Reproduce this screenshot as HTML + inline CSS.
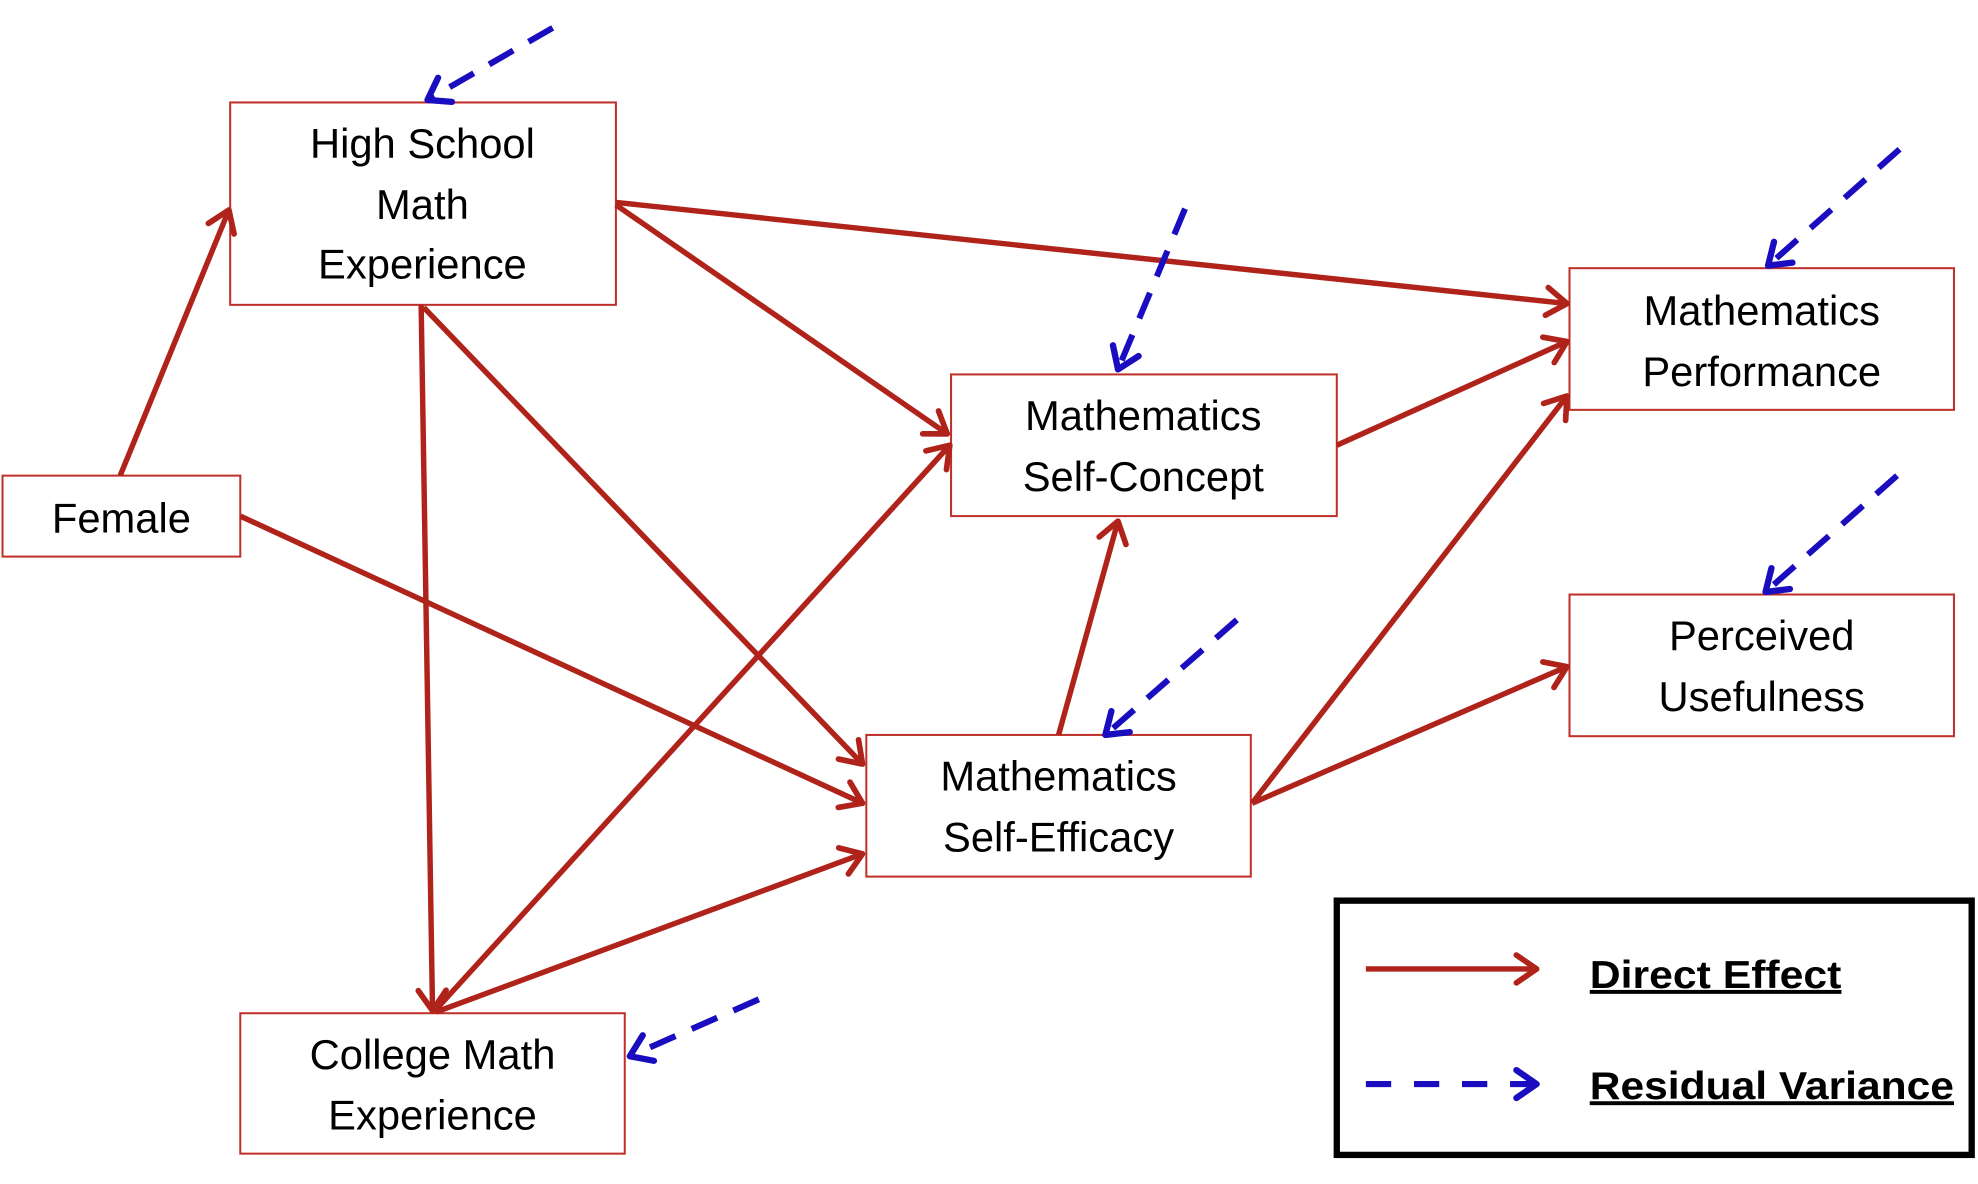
<!DOCTYPE html>
<html><head><meta charset="utf-8"><style>
html,body{margin:0;padding:0;background:#fff;}
svg{display:block;}
text{font-family:"Liberation Sans",sans-serif;fill:#000;}
</style></head><body>
<svg width="1978" height="1184" viewBox="0 0 1564 936" preserveAspectRatio="none" xmlns="http://www.w3.org/2000/svg">
<defs>
<marker id="r" markerUnits="userSpaceOnUse" markerWidth="40" markerHeight="40" refX="20" refY="20" orient="auto" viewBox="0 0 40 40" overflow="visible">
<polyline points="4,9 20,20 4,31" fill="none" stroke="#b0231a" stroke-width="4.5" stroke-linecap="round" stroke-linejoin="round"/>
</marker>
<marker id="b" markerUnits="userSpaceOnUse" markerWidth="40" markerHeight="40" refX="20" refY="20" orient="auto" viewBox="0 0 40 40" overflow="visible">
<polyline points="4,9 20,20 4,31" fill="none" stroke="#1a0dc0" stroke-width="5" stroke-linecap="round" stroke-linejoin="round"/>
</marker>
</defs>
<g fill="#fff" stroke="#c0302a" stroke-width="1.6">
<rect x="182" y="81" width="305" height="160"/>
<rect x="2" y="376" width="188" height="64"/>
<rect x="752" y="296" width="305" height="112"/>
<rect x="1241" y="212" width="304" height="112"/>
<rect x="1241" y="470" width="304" height="112"/>
<rect x="685" y="581" width="304" height="112"/>
<rect x="190" y="801" width="304" height="111"/>
</g>
<g stroke="#b0231a" stroke-width="4.3" fill="none" marker-end="url(#r)">
<line x1="95" y1="376" x2="181" y2="166"/>
<line x1="190" y1="408" x2="682" y2="635"/>
<line x1="487" y1="160" x2="1239" y2="240"/>
<line x1="487" y1="162" x2="749" y2="343"/>
<line x1="333" y1="241" x2="342" y2="799"/>
<line x1="335" y1="243" x2="682" y2="604"/>
<line x1="343" y1="800" x2="751" y2="352"/>
<line x1="345" y1="800" x2="682" y2="675"/>
<line x1="837" y1="581" x2="884" y2="412"/>
<line x1="1057" y1="352" x2="1239" y2="270"/>
<line x1="990" y1="635" x2="1239" y2="313"/>
<line x1="990" y1="635" x2="1239" y2="527"/>
<line x1="1080" y1="766" x2="1215" y2="766"/>
</g>
<g stroke="#1a0dc0" stroke-width="4.8" fill="none" stroke-dasharray="22,14" marker-end="url(#b)">
<line x1="437" y1="22" x2="338" y2="79"/>
<line x1="937" y1="165" x2="884" y2="292"/>
<line x1="1502" y1="118" x2="1398" y2="210"/>
<line x1="1500" y1="376" x2="1396" y2="468"/>
<line x1="978" y1="490" x2="874" y2="581"/>
<line x1="600" y1="790" x2="498" y2="835"/>
<line x1="1080" y1="857" x2="1215" y2="857" stroke-dasharray="20,18"/>
</g>
<rect x="1057" y="712" width="502" height="201" fill="none" stroke="#000" stroke-width="5"/>
<g font-size="33" text-anchor="middle">
<text x="334" y="125">High School</text>
<text x="334" y="173">Math</text>
<text x="334" y="220">Experience</text>
<text x="96" y="421">Female</text>
<text x="904" y="340">Mathematics</text>
<text x="904" y="388">Self-Concept</text>
<text x="1393" y="257">Mathematics</text>
<text x="1393" y="305">Performance</text>
<text x="1393" y="514">Perceived</text>
<text x="1393" y="562">Usefulness</text>
<text x="837" y="625">Mathematics</text>
<text x="837" y="673">Self-Efficacy</text>
<text x="342" y="845">College Math</text>
<text x="342" y="893">Experience</text>
</g>
<g font-size="31" font-weight="bold" text-decoration="underline">
<text x="1257" y="781" textLength="199" lengthAdjust="spacingAndGlyphs">Direct Effect</text>
<text x="1257" y="869" textLength="288" lengthAdjust="spacingAndGlyphs">Residual Variance</text>
</g>
</svg>
</body></html>
